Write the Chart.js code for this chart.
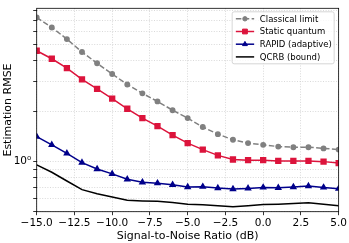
<!DOCTYPE html>
<html>
<head>
<meta charset="utf-8">
<script src="https://cdn.jsdelivr.net/npm/chart.js@4.4.0/dist/chart.umd.min.js"></script>
<style>
  html, body { margin: 0; padding: 0; background: #fff; }
</style>
</head>
<body>
<canvas id="rmse-chart" width="349" height="243"></canvas>
<script>
const snr = [-15, -14, -13, -12, -11, -10, -9, -8, -7, -6, -5, -4, -3, -2, -1, 0, 1, 2, 3, 4, 5];
const classical = [7.27, 6.34, 5.40, 4.52, 3.87, 3.34, 2.89, 2.56, 2.29, 2.03, 1.82, 1.61, 1.46, 1.35, 1.29, 1.26, 1.23, 1.22, 1.22, 1.20, 1.18];
const staticQuantum = [4.60, 4.12, 3.62, 3.10, 2.72, 2.38, 2.07, 1.82, 1.63, 1.44, 1.29, 1.18, 1.09, 1.03, 1.02, 1.02, 1.01, 1.01, 1.01, 1.00, 0.98];
const rapid = [1.41, 1.26, 1.12, 0.987, 0.903, 0.845, 0.784, 0.753, 0.743, 0.727, 0.705, 0.708, 0.695, 0.686, 0.692, 0.701, 0.698, 0.705, 0.714, 0.701, 0.689];
const qcrb = [0.957, 0.864, 0.766, 0.680, 0.642, 0.614, 0.587, 0.582, 0.579, 0.569, 0.557, 0.552, 0.545, 0.537, 0.545, 0.554, 0.557, 0.562, 0.567, 0.557, 0.545];
const yTicks = [0.5, 0.6, 0.7, 0.8, 0.9, 1, 2, 3, 4, 5, 6, 7, 8];

const FONT = 'DejaVu Sans';

function pts(values) {
    return snr.map((x, i) => ({ x: x, y: values[i] }));
}

// matplotlib-style frame round the axes
const frame = {
    id: 'frame',
    afterDatasetsDraw(chart) {
        const { ctx, chartArea: a } = chart;
        ctx.save();
        ctx.strokeStyle = '#000';
        ctx.lineWidth = 0.8;
        ctx.strokeRect(a.left, a.top, a.right - a.left, a.bottom - a.top);
        ctx.restore();
    }
};

// legend box in the upper right corner, styles taken from the datasets
const legendBox = {
    id: 'legendBox',
    afterDraw(chart) {
        const { ctx, chartArea: a } = chart;
        const x0 = a.right - 106.5, y0 = a.top + 3.5, w = 102, h = 52;
        ctx.save();
        ctx.beginPath();
        ctx.roundRect(x0, y0, w, h, 2);
        ctx.fillStyle = 'rgba(255,255,255,0.8)';
        ctx.fill();
        ctx.strokeStyle = '#cccccc';
        ctx.lineWidth = 0.8;
        ctx.stroke();
        chart.data.datasets.forEach((ds, i) => {
            const y = y0 + 7 + i * 12.7;
            ctx.beginPath();
            ctx.setLineDash(ds.borderDash || []);
            ctx.strokeStyle = ds.borderColor;
            ctx.lineWidth = ds.borderWidth;
            ctx.moveTo(x0 + 3.7, y);
            ctx.lineTo(x0 + 22, y);
            ctx.stroke();
            ctx.setLineDash([]);
            if (ds.pointRadius > 0) {
                ctx.fillStyle = ds.pointBackgroundColor;
                ctx.strokeStyle = ds.pointBorderColor;
                ctx.lineWidth = 1;
                Chart.helpers.drawPoint(ctx, { pointStyle: ds.pointStyle, radius: ds.pointRadius, rotation: 0, borderWidth: 1 }, x0 + 12.8, y);
            }
            ctx.fillStyle = '#000';
            ctx.font = '8.5px "' + FONT + '"';
            ctx.textBaseline = 'middle';
            ctx.fillText(ds.label, x0 + 27.7, y + 0.5);
        });
        ctx.restore();
    }
};

const ctx = document.getElementById('rmse-chart');

new Chart(ctx, {
    type: 'line',
    data: {
        datasets: [{
            label: 'Classical limit',
            data: pts(classical),
            borderColor: '#808080',
            backgroundColor: '#808080',
            pointBackgroundColor: '#808080',
            pointBorderColor: '#808080',
            borderWidth: 1.5,
            borderDash: [5.5, 2.4],
            pointStyle: 'circle',
            pointRadius: 2.2
        }, {
            label: 'Static quantum',
            data: pts(staticQuantum),
            borderColor: '#dc143c',
            backgroundColor: '#dc143c',
            pointBackgroundColor: '#dc143c',
            pointBorderColor: '#dc143c',
            borderWidth: 1.5,
            pointStyle: 'rect',
            pointRadius: 3.4
        }, {
            label: 'RAPID (adaptive)',
            data: pts(rapid),
            borderColor: '#00008b',
            backgroundColor: '#00008b',
            pointBackgroundColor: '#00008b',
            pointBorderColor: '#00008b',
            borderWidth: 1.5,
            pointStyle: 'triangle',
            pointRadius: 2.8
        }, {
            label: 'QCRB (bound)',
            data: pts(qcrb),
            borderColor: '#000000',
            backgroundColor: '#000000',
            borderWidth: 1.5,
            pointRadius: 0
        }]
    },
    options: {
        responsive: false,
        animation: false,
        layout: { padding: { top: 1.5, right: 9.5, left: 0, bottom: 0 } },
        plugins: {
            legend: { display: false },
            tooltip: { enabled: false }
        },
        elements: { line: { tension: 0 } },
        scales: {
            x: {
                type: 'linear',
                min: -15,
                max: 5,
                afterFit: (s) => { s.height = 31.3; },
                ticks: {
                    stepSize: 2.5,
                    autoSkip: false,
                    maxRotation: 0,
                    padding: 2,
                    color: '#000',
                    font: { family: FONT, size: 10.5 },
                    callback: (v) => v.toFixed(1).replace('-', '\u2212')
                },
                grid: {
                    color: '#cfcfcf',
                    lineWidth: 0.8,
                    tickLength: 3.5,
                    tickColor: '#000',
                    tickWidth: 0.8,
                    tickBorderDash: []
                },
                border: { display: false, dash: [1, 1.6] },
                title: {
                    display: true,
                    text: 'Signal-to-Noise Ratio (dB)',
                    color: '#000',
                    font: { family: FONT, size: 11 },
                    padding: { top: 0, bottom: 0 }
                }
            },
            y: {
                type: 'logarithmic',
                min: 0.502,
                max: 8.25,
                afterFit: (s) => { s.width = 36.7; },
                afterBuildTicks: (s) => { s.ticks = yTicks.map(v => ({ value: v })); },
                ticks: {
                    autoSkip: false,
                    padding: 2,
                    color: '#000',
                    font: { family: FONT, size: 10.5 },
                    callback: (v) => (v === 1 ? '10\u2070' : '')
                },
                grid: {
                    color: '#cfcfcf',
                    lineWidth: 0.8,
                    tickLength: 3.5,
                    tickColor: '#000',
                    tickWidth: 0.8,
                    tickBorderDash: []
                },
                border: { display: false, dash: [1, 1.6] },
                title: {
                    display: true,
                    text: 'Estimation RMSE',
                    color: '#000',
                    font: { family: FONT, size: 11 },
                    padding: { top: 1.5, bottom: 0 }
                }
            }
        }
    },
    plugins: [frame, legendBox]
});
</script>
</body>
</html>
